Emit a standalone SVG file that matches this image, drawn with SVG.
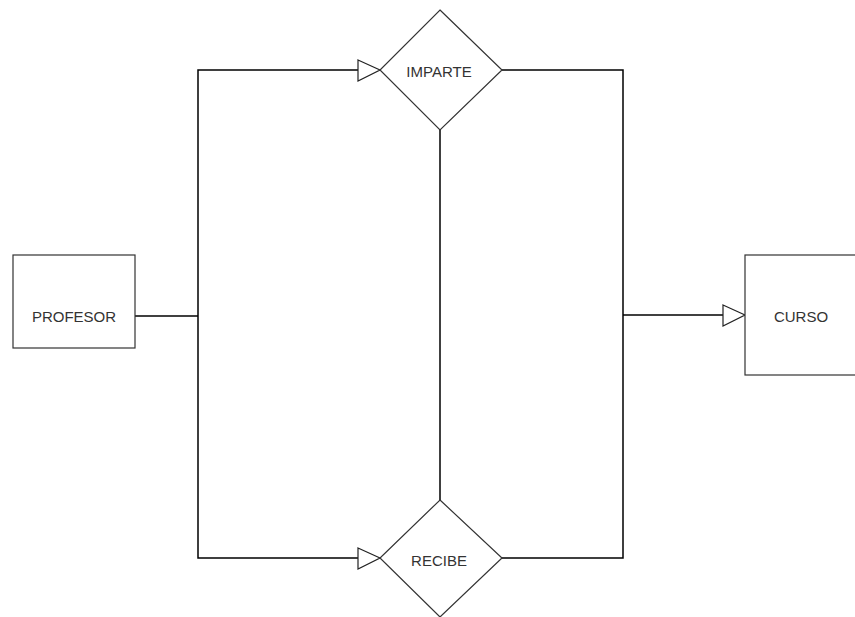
<svg xmlns="http://www.w3.org/2000/svg" width="855" height="617" viewBox="0 0 855 617">
<style>
.shape{fill:#fff;stroke:#333;stroke-width:1.2}
.ln{fill:none;stroke:#000;stroke-width:1.5}
.arr{fill:#fff;stroke:#222;stroke-width:1.2}
text{font-family:"Liberation Sans",Arial,sans-serif;font-size:15px;fill:#333;text-anchor:middle;dominant-baseline:central}
</style>
<rect width="855" height="617" fill="#fff"/>
<g id="connectors">
<polyline class="ln" points="135,316 198,316"/>
<polyline class="ln" points="358,70 198,70 198,558 358,558"/>
<polyline class="ln" points="502,70 623,70 623,558 502,558"/>
<polyline class="ln" points="623,315 723,315"/>
<line class="ln" x1="440" y1="130" x2="440" y2="500"/>
<polygon class="arr" points="358,60 380,70 358,81"/>
<polygon class="arr" points="358,548 380,558 358,569"/>
<polygon class="arr" points="723,305 745,315 723,326"/>
</g>
<g id="profesor">
<rect class="shape" x="13" y="255" width="122" height="93"/>
<text x="74" y="316">PROFESOR</text>
</g>
<g id="curso">
<rect class="shape" x="745" y="255" width="115" height="120"/>
<text x="801" y="316">CURSO</text>
</g>
<g id="imparte">
<polygon class="shape" points="440,10 502,70 440,130 380,70"/>
<text x="439" y="71">IMPARTE</text>
</g>
<g id="recibe">
<polygon class="shape" points="440,500 502,558 440,617 380,558"/>
<text x="439" y="560">RECIBE</text>
</g>
</svg>
